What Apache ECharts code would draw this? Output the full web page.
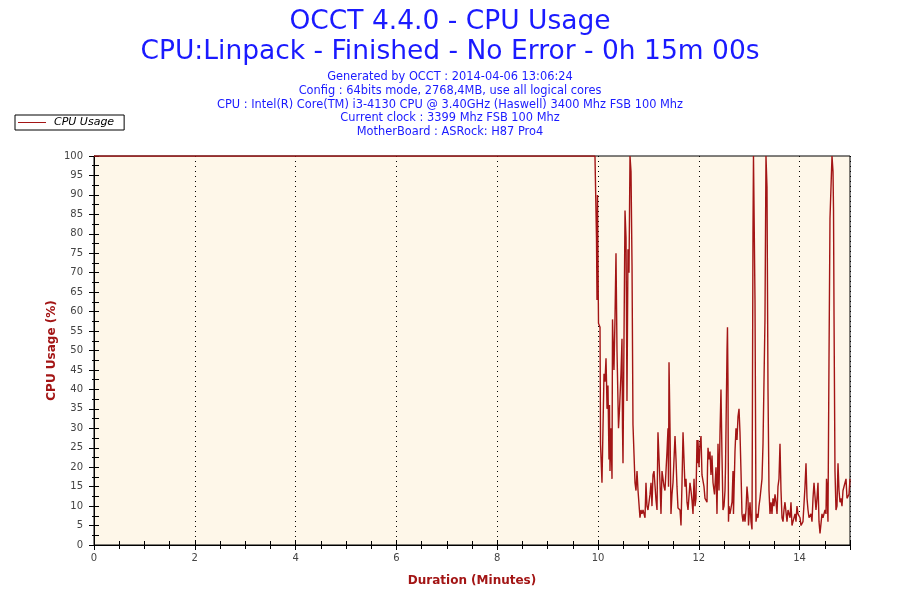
<!DOCTYPE html>
<html>
<head>
<meta charset="utf-8">
<script src="https://cdn.jsdelivr.net/npm/echarts@6/dist/echarts.min.js"></script>
<style>html,body{margin:0;padding:0;background:#fff}#c{width:900px;height:600px}</style>
</head>
<body>
<div id="c"></div>
<script>
const titleLines = ['OCCT 4.4.0 - CPU Usage', 'CPU:Linpack - Finished - No Error - 0h 15m 00s'];
const infoLines = [
  'Generated by OCCT : 2014-04-06 13:06:24',
  'Config : 64bits mode, 2768,4MB, use all logical cores',
  'CPU : Intel(R) Core(TM) i3-4130 CPU @ 3.40GHz (Haswell) 3400 Mhz FSB 100 Mhz',
  'Current clock : 3399 Mhz FSB 100 Mhz',
  'MotherBoard : ASRock: H87 Pro4'
];
const seriesName = 'CPU Usage';
const xAxisName = 'Duration (Minutes)';
const yAxisName = 'CPU Usage (%)';

// time in minutes
const minutes = [0, 9.940, 9.960, 9.970, 9.980, 9.990, 10.000, 10.010, 10.040, 10.050, 10.079, 10.099, 10.119, 10.139, 10.159, 10.169, 10.179, 10.198, 10.218, 10.228, 10.238, 10.258, 10.278, 10.288, 10.298, 10.317, 10.337, 10.357, 10.377, 10.387, 10.407, 10.427, 10.456, 10.476, 10.486, 10.496, 10.536, 10.556, 10.575, 10.595, 10.615, 10.635, 10.655, 10.675, 10.694, 10.734, 10.754, 10.774, 10.794, 10.833, 10.853, 10.873, 10.893, 10.933, 10.952, 10.972, 10.992, 11.032, 11.052, 11.071, 11.091, 11.111, 11.151, 11.171, 11.190, 11.230, 11.250, 11.270, 11.310, 11.329, 11.369, 11.389, 11.399, 11.409, 11.429, 11.448, 11.468, 11.488, 11.528, 11.548, 11.567, 11.587, 11.627, 11.647, 11.667, 11.687, 11.726, 11.746, 11.766, 11.786, 11.825, 11.845, 11.865, 11.885, 11.905, 11.925, 11.944, 11.964, 11.974, 11.984, 12.004, 12.024, 12.044, 12.063, 12.083, 12.103, 12.123, 12.163, 12.173, 12.183, 12.202, 12.222, 12.242, 12.262, 12.282, 12.312, 12.341, 12.361, 12.381, 12.401, 12.421, 12.440, 12.460, 12.480, 12.500, 12.520, 12.530, 12.560, 12.569, 12.579, 12.589, 12.599, 12.619, 12.659, 12.679, 12.688, 12.718, 12.738, 12.758, 12.778, 12.798, 12.817, 12.837, 12.857, 12.877, 12.897, 12.917, 12.937, 12.956, 12.976, 12.986, 13.016, 13.036, 13.056, 13.075, 13.085, 13.095, 13.115, 13.135, 13.155, 13.175, 13.194, 13.214, 13.234, 13.254, 13.274, 13.313, 13.333, 13.353, 13.373, 13.393, 13.413, 13.433, 13.452, 13.472, 13.492, 13.512, 13.532, 13.552, 13.571, 13.591, 13.611, 13.631, 13.651, 13.671, 13.690, 13.710, 13.730, 13.750, 13.770, 13.810, 13.829, 13.849, 13.869, 13.909, 13.929, 13.948, 13.968, 14.008, 14.028, 14.067, 14.107, 14.127, 14.147, 14.167, 14.187, 14.226, 14.246, 14.266, 14.286, 14.325, 14.345, 14.365, 14.385, 14.405, 14.444, 14.464, 14.504, 14.524, 14.534, 14.544, 14.563, 14.583, 14.603, 14.643, 14.663, 14.673, 14.683, 14.702, 14.722, 14.742, 14.762, 14.782, 14.802, 14.821, 14.841, 14.861, 14.901, 14.921, 14.940, 14.960, 14.980, 15.000];
// CPU usage in %
const usage = [100, 100, 100, 79, 63, 90, 73, 57, 56, 26, 16, 30, 44, 42, 48, 42, 35, 41, 22, 36, 19, 30, 17, 58, 53, 45, 58, 75, 50, 50, 30, 35, 44, 53, 30, 21, 86, 79, 37, 76, 70, 100, 96, 72, 31, 16, 14, 19, 14, 7, 9, 8, 9, 7, 16, 10, 9, 13, 16, 10, 18, 19, 11.5, 9, 29, 16, 8, 19, 15, 14, 24, 30, 15, 47, 30, 8, 13, 16, 28, 22, 15, 9.5, 9, 5, 16, 29, 15, 17, 11, 9, 16, 14, 11.5, 8, 17, 10, 12, 27, 21, 27, 20, 26, 28, 18, 18, 15, 12, 11, 20, 25, 22, 24, 18, 23, 16, 13, 20, 8, 26, 14, 29, 40, 23, 9, 10, 14, 20, 50, 56, 42, 6, 10, 8, 11, 19, 8, 24, 30, 27, 33, 35, 29, 19, 8, 6, 8, 6, 9, 15, 12, 5, 11, 6, 4, 80, 100, 100, 63, 6, 8, 7, 10, 12, 12, 17, 26, 58, 100, 92, 40, 14, 8, 11, 8, 12, 10, 13, 11, 8, 15, 17, 26, 14, 7, 6, 9, 11, 11, 6, 9, 7, 11, 5, 6, 8, 6, 10, 8, 7, 5, 6, 15, 21, 12, 9, 7, 8, 6, 12, 16, 9, 12, 16, 6, 3, 8, 7, 9, 8, 17, 15, 6, 47, 84, 100, 96, 86, 59, 19, 9, 10, 21, 14, 11, 12, 10, 14, 16, 17, 12, 11.5, 13, 17];

const data = minutes.map((t, i) => [t, usage[i]]);
const FONT = 'DejaVu Sans';
const red = '#a31515';
const blue = '#1a1aff';

const titles = [
  {text: titleLines[0], left: 'center', top: 4, textStyle: {fontFamily: FONT, fontSize: 26.5, fontWeight: 'normal', color: blue}},
  {text: titleLines[1], left: 'center', top: 34, textStyle: {fontFamily: FONT, fontSize: 26.5, fontWeight: 'normal', color: blue}}
];
infoLines.forEach((line, i) => {
  titles.push({text: line, left: 'center', top: 71.5 + i * 13.8, padding: 0,
    textStyle: {fontFamily: FONT, fontSize: 11.4, fontWeight: 'normal', color: blue}});
});

const chart = echarts.init(document.getElementById('c'), null, {renderer: 'canvas'});
chart.setOption({
  animation: false,
  backgroundColor: '#ffffff',
  title: titles,
  legend: {
    data: [seriesName], left: 15, top: 115, orient: 'horizontal',
    backgroundColor: '#ffffff', borderColor: '#000', borderWidth: 1, borderRadius: 0,
    padding: [2, 10, 2, 3], itemWidth: 28, itemHeight: 1, itemGap: 5, icon: 'rect',
    textStyle: {fontFamily: FONT, fontSize: 11, fontStyle: 'italic', color: '#000', padding: [0, 0, 0, 3]}
  },
  grid: {left: 94, right: 50, top: 156, bottom: 55, show: true, backgroundColor: '#fef7e9', borderColor: '#000', borderWidth: 1},
  xAxis: [
    {type: 'value', min: 0, max: 15, interval: 2, name: xAxisName, nameLocation: 'middle', nameGap: 30,
     nameMoveOverlap: false,
     nameTextStyle: {fontFamily: FONT, fontSize: 12, fontWeight: 'bold', color: red},
     axisLine: {onZero: false, lineStyle: {color: '#000', width: 1}},
     axisTick: {show: true, length: 5, lineStyle: {color: '#000'}},
     minorTick: {show: true, splitNumber: 4, length: 4, lineStyle: {color: '#000'}},
     axisLabel: {fontFamily: FONT, fontSize: 10, color: '#444', margin: 8, showMaxLabel: false,
       formatter: v => (v >= 15 ? '' : String(v))},
     splitLine: {show: true, lineStyle: {color: '#000', type: [1, 4], width: 1}},
     minorSplitLine: {show: false}},
    {type: 'value', min: 0, max: 15, interval: 2, position: 'bottom', gridIndex: 0,
     axisLine: {show: false}, axisLabel: {show: false}, splitLine: {show: false},
     axisTick: {show: true, inside: true, length: 5, lineStyle: {color: '#000'}},
     minorTick: {show: true, splitNumber: 4, length: 4, lineStyle: {color: '#000'}}}
  ],
  yAxis: [
    {type: 'value', min: 0, max: 100, interval: 5, name: yAxisName, nameLocation: 'middle', nameGap: 36, nameRotate: 90,
     nameMoveOverlap: false,
     nameTextStyle: {fontFamily: FONT, fontSize: 12, fontWeight: 'bold', color: red},
     axisLine: {show: true, lineStyle: {color: '#000', width: 1}},
     axisTick: {show: true, length: 5, lineStyle: {color: '#000'}},
     minorTick: {show: true, splitNumber: 2, length: 2, lineStyle: {color: '#000'}},
     axisLabel: {fontFamily: FONT, fontSize: 10, color: '#444', margin: 11},
     splitLine: {show: false}},
    {type: 'value', min: 0, max: 100, interval: 5, position: 'left',
     axisLine: {show: false}, axisLabel: {show: false}, splitLine: {show: false},
     axisTick: {show: true, inside: true, length: 5, lineStyle: {color: '#000'}},
     minorTick: {show: true, splitNumber: 2, length: 5, lineStyle: {color: '#000'}}}
  ],
  series: [{
    name: seriesName, type: 'line', data: data, xAxisIndex: 0, yAxisIndex: 0,
    showSymbol: false, symbol: 'none', smooth: false,
    lineStyle: {color: red, width: 1.4}, itemStyle: {color: red}
  }]
});
</script>
</body>
</html>
